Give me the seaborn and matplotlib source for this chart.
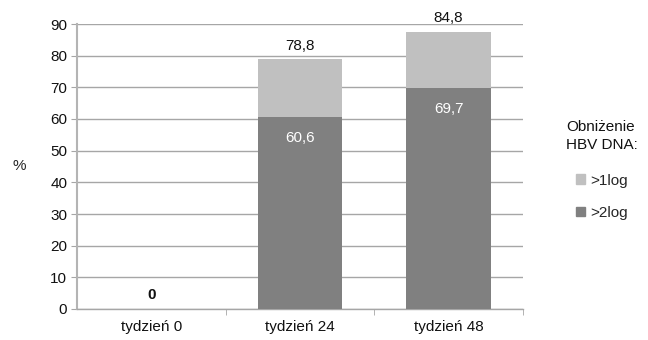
import pandas as pd
import matplotlib
matplotlib.use("Agg")
import matplotlib.pyplot as plt
from matplotlib.patches import Patch
import seaborn as sns

# data
weeks = ["tydzień 0", "tydzień 24", "tydzień 48"]
drop_2log = [0.0, 60.6, 69.7]
drop_1log_extra = [0.0, 18.2, 17.7]
top_labels = ["0", "78,8", "84,8"]
inner_labels = ["", "60,6", "69,7"]

light = "#c0c0c0"
dark = "#808080"
grid_col = "#a6a6a6"

sns.set_style("white")
plt.rcParams["font.family"] = ["Liberation Sans", "DejaVu Sans"]
fs = 11

df = pd.DataFrame({"week": weeks, "dark": drop_2log, "light": drop_1log_extra})
df["total"] = df["dark"] + df["light"]

fig = plt.figure(figsize=(6.48, 3.40), dpi=100)
ax = fig.add_axes([77/648, 1-309/340, (523-77)/648, (309-24)/340])

sns.barplot(data=df, x="week", y="total", color=light, width=0.57, saturation=1,
            linewidth=0, ax=ax, zorder=2)
sns.barplot(data=df, x="week", y="dark", color=dark, width=0.57, saturation=1,
            linewidth=0, ax=ax, zorder=3)

ax.set_xlim(-0.5, 2.5)
ax.set_ylim(0, 90)
ax.set_yticks(range(0, 91, 10))
ax.yaxis.grid(True, color=grid_col, lw=1)
ax.set_axisbelow(True)
for s in ["top", "right"]:
    ax.spines[s].set_visible(False)
ax.spines["left"].set_color("#b4b4b4")
ax.spines["left"].set_linewidth(1.5)
ax.spines["bottom"].set_color(grid_col)
ax.spines["bottom"].set_linewidth(1)

ax.tick_params(axis="y", left=True, length=4, color=grid_col, labelsize=fs, labelcolor="#111111", pad=3)
ax.tick_params(axis="x", which="major", length=0, labelsize=fs, labelcolor="#111111", pad=8)
ax.set_xticks([0.5, 1.5, 2.5], minor=True)
ax.tick_params(axis="x", which="minor", length=4, color=grid_col, bottom=True)
ax.set_xlabel("")
ax.set_ylabel("%", rotation=0, fontsize=fs, labelpad=22, va="center")

for i, row in df.iterrows():
    if row["total"] > 0:
        ax.annotate(top_labels[i], (i, row["total"]), xytext=(0, 10), textcoords="offset points",
                    ha="center", va="center", fontsize=fs, color="#111111")
    else:
        ax.annotate(top_labels[i], (i, 0), xytext=(0, 10), textcoords="offset points",
                    ha="center", va="center", fontsize=fs, color="#111111", fontweight="bold")
    if inner_labels[i]:
        ax.annotate(inner_labels[i], (i, row["dark"]), xytext=(0, -15), textcoords="offset points",
                    ha="center", va="center", fontsize=fs, color="white")

fig.text(566/648, 1-136/340, "Obniżenie\nHBV DNA:", ha="left", va="center",
         fontsize=fs, color="#111111", linespacing=1.35)
handles = [Patch(color=light, label=">1log"), Patch(color=dark, label=">2log")]
fig.legend(handles=handles, loc="upper left", bbox_to_anchor=(568/648, 1-166/340),
           frameon=False, fontsize=fs, handlelength=0.6, handleheight=0.6,
           handletextpad=0.35, labelspacing=1.2, borderpad=0)

fig.savefig("out.png", dpi=100)
